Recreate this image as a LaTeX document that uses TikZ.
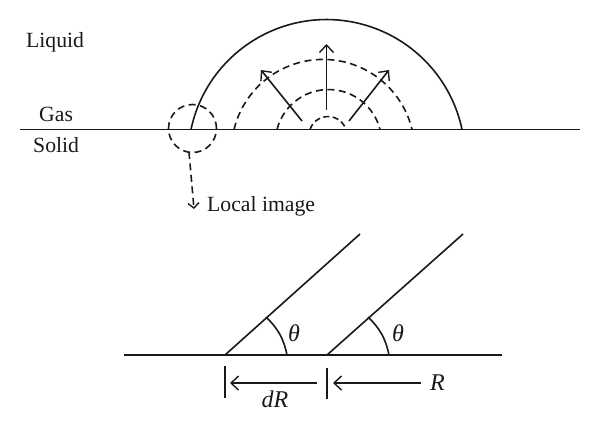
\documentclass[tikz,border=0pt]{standalone}
\usepackage{fontspec}
\setmainfont{Liberation Serif}
\usetikzlibrary{arrows.meta}
\tikzset{
  ln/.style={draw=black!90,line width=1.6pt},
  dsh/.style={ln,dash pattern=on 7pt off 4.5pt},
  opentip/.style={-{Straight Barb[length=7.5pt,width=14pt,line width=1.4pt]}},
  smalltip/.style={-{Straight Barb[length=5pt,width=11pt,line width=1.4pt]}},
  lbl/.style={inner sep=0pt,font=\fontsize{21.7}{24}\selectfont,text=black!90},
  lbi/.style={lbl,font=\fontsize{24}{26}\selectfont\itshape}
}
\begin{document}
\begin{tikzpicture}[x=1pt,y=-1pt]
\useasboundingbox (0,0) rectangle (600,434);
% top
\coordinate (gl) at (20,129.5); \coordinate (gr) at (580,129.5);
\draw[ln] (gl) -- (gr);
\coordinate (capL) at (191,129.5);
\draw[ln] (capL) arc[start angle=168.1,end angle=11.9,radius=138.5pt];
\coordinate (o1) at (234,129.5);
\draw[dsh] (o1) arc[start angle=166.4,end angle=13.6,radius=91.6pt];
\coordinate (o2) at (277,129.5);
\draw[dsh] (o2) arc[start angle=165.6,end angle=14.4,radius=53.2pt];
\coordinate (o3) at (310,129.5);
\draw[dsh,dash pattern=on 6pt off 3.5pt] (o3) arc[start angle=161.6,end angle=18.4,radius=19pt];
\coordinate (a0) at (326.5,110); \coordinate (a0e) at (326.5,44);
\coordinate (a1) at (302,121); \coordinate (a1e) at (261,70);
\coordinate (a2) at (349,121); \coordinate (a2e) at (389,70);
\draw[ln,opentip] (a0) -- (a0e);
\draw[ln,opentip] (a1) -- (a1e);
\draw[ln,opentip] (a2) -- (a2e);
\node[circle,dsh,minimum size=48pt,inner sep=0pt] (local) at (192.5,128.5) {};
\node[lbl,anchor=base west] (limg) at (207,211) {Local image};
\coordinate (lt) at (194,209);
\coordinate (ls) at (189,152);
\draw[dsh,smalltip] (ls) -- (lt);
\node[lbl,anchor=base west] (liq) at (26,47) {Liquid};
\node[lbl,anchor=base west] (gas) at (39,121) {Gas};
\node[lbl,anchor=base west] (sol) at (33,152) {Solid};
% bottom
\coordinate (bl) at (124,355); \coordinate (br) at (502,355);
\draw[ln] (bl) -- (br);
\coordinate (p1) at (225,355); \coordinate (p1e) at (360,234);
\coordinate (p2) at (327,355); \coordinate (p2e) at (463,234);
\draw[ln] (p1) -- (p1e);
\draw[ln] (p2) -- (p2e);
\coordinate (q1) at (287,355); \coordinate (q2) at (389,355);
\draw[ln] (q1) to[bend right=17] (266,317);
\draw[ln] (q2) to[bend right=17] (368,317);
\node[lbi] (t1) at (294,333) {θ};
\node[lbi] (t2) at (398,333) {θ};
\coordinate (k1) at (225,366); \coordinate (k1e) at (225,398);
\coordinate (k2) at (327,368); \coordinate (k2e) at (327,399);
\draw[ln] (k1) -- (k1e);
\draw[ln] (k2) -- (k2e);
\coordinate (d1) at (317,383); \coordinate (d1e) at (230,383);
\coordinate (d2) at (421,383); \coordinate (d2e) at (333,383);
\draw[ln,opentip] (d1) -- (d1e);
\draw[ln,opentip] (d2) -- (d2e);
\node[lbi,anchor=base west] (R) at (430,390) {R};
\node[lbi,anchor=base] (dR) at (275,407) {dR};
\end{tikzpicture}
\end{document}
